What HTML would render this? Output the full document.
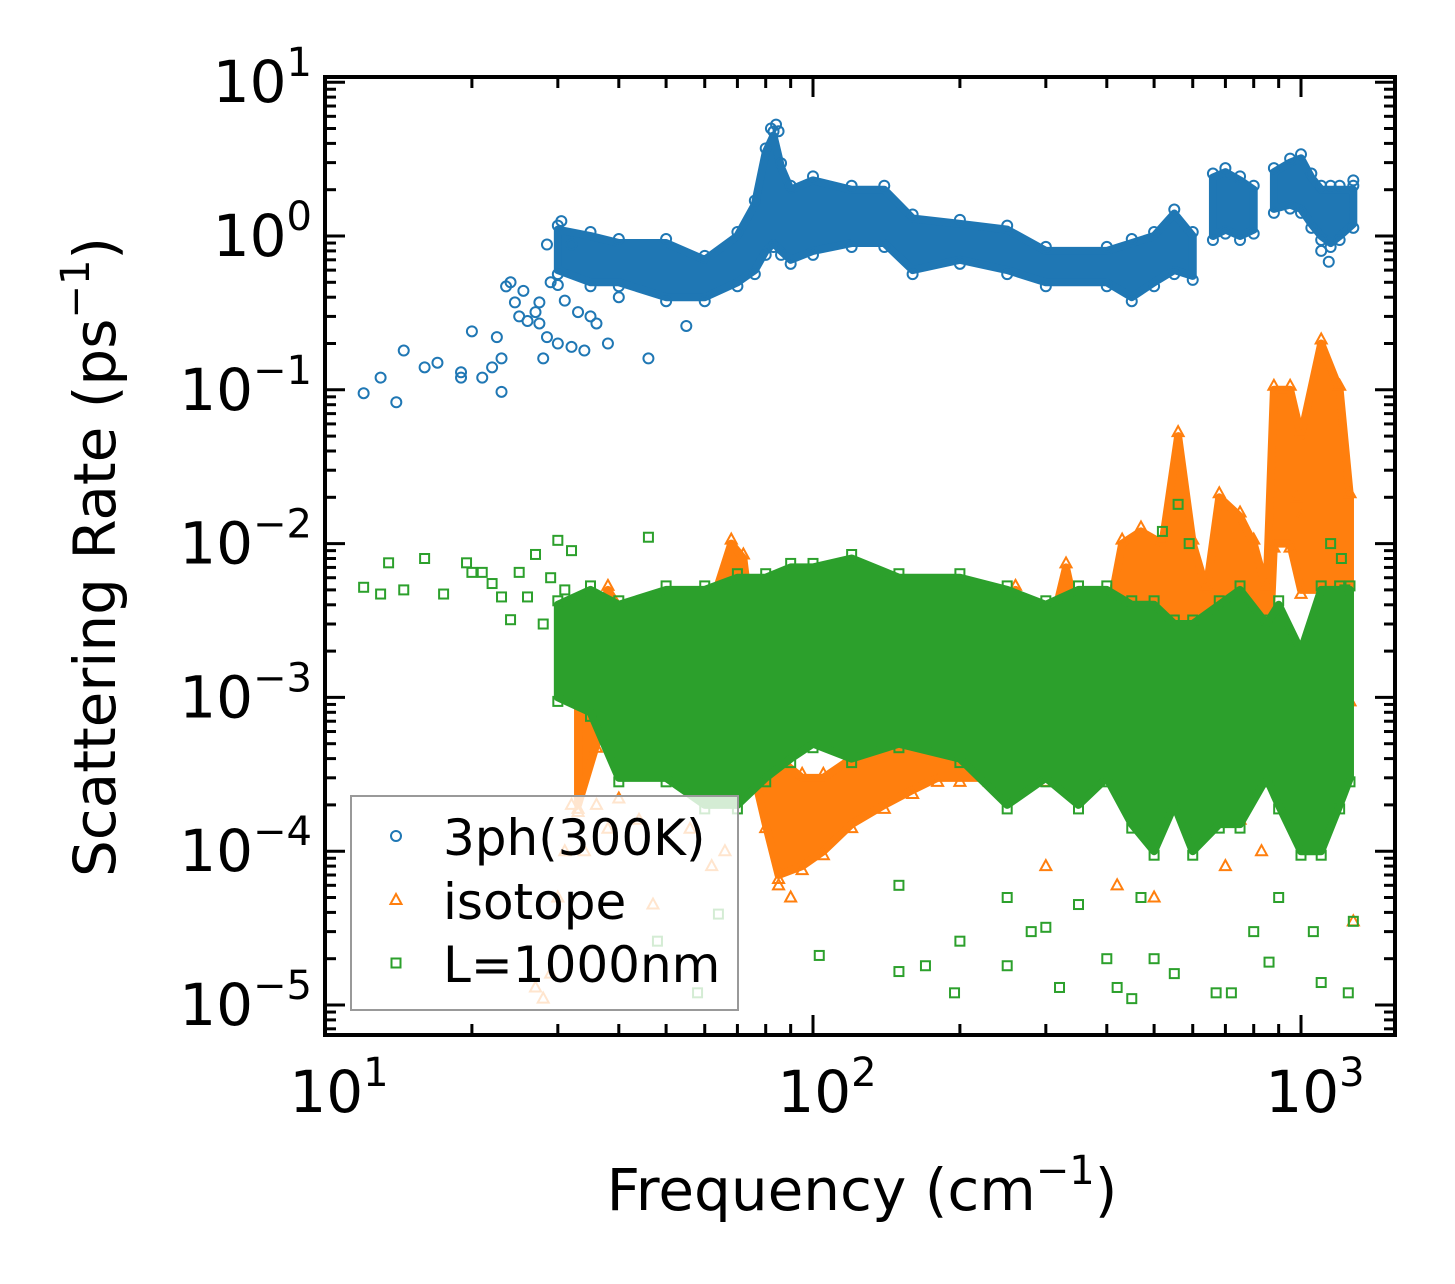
<!DOCTYPE html>
<html><head><meta charset="utf-8"><style>
html,body{margin:0;padding:0;background:#fff}
svg{display:block;font-family:"DejaVu Sans","Liberation Sans",sans-serif}
</style></head><body>
<svg id="chart" width="1455" height="1284" viewBox="0 0 1455 1284" xmlns="http://www.w3.org/2000/svg">
<rect width="1455" height="1284" fill="#fff"/>
<g id="data"></g>
<g id="axes"></g>
</svg>
<script>
// ---- data ----
const blueBandF=[30,35,40,50,60,70,76,80,83,86,90,100,120,140,160,200,250,300,400,450,500,550,600];
const blueBandLo=[0.6,0.5,0.5,0.4,0.4,0.5,0.6,0.8,0.9,0.8,0.7,0.8,0.9,0.9,0.6,0.7,0.6,0.5,0.5,0.4,0.5,0.6,0.55];
const blueBandHi=[1.1,1.0,0.9,0.9,0.7,1.0,1.6,3.5,4.5,2.8,2.0,2.3,2.0,2.0,1.3,1.2,1.1,0.8,0.8,0.9,1.0,1.4,1.0];
const blueBand2F=[660,700,750,800];
const blueBand2Lo=[1.0,1.1,1.0,1.1];
const blueBand2Hi=[2.4,2.6,2.3,2.0];
const blueBand3F=[880,950,1000,1050,1100,1150,1200,1280];
const blueBand3Lo=[1.5,1.6,1.5,1.2,1.0,0.9,1.0,1.2];
const blueBand3Hi=[2.6,3.0,3.2,2.4,2.0,2.0,2.0,2.0];
const blueX=[12,13,14,14.5,16,17,19,19,20,21,22,22.5,23,23,23.5,24,24.5,25,25.5,26,27,27.5,28,28.5,28.5,29,30,30,31,32,33,34,35,36,38,40,46,55,30.5,32,27.5,82,84,85,1280,1140,1100];
const blueY=[0.095,0.12,0.083,0.18,0.14,0.15,0.13,0.12,0.24,0.12,0.14,0.22,0.097,0.16,0.47,0.5,0.37,0.3,0.44,0.28,0.32,0.27,0.16,0.22,0.88,0.5,0.2,0.48,0.38,0.19,0.32,0.18,0.3,0.27,0.2,0.4,0.16,0.26,1.25,0.88,0.37,5.0,5.3,4.8,2.3,0.68,0.8];

const orangeBandF=[33,36,38,42,48,55,62,68,72,76,80,85,95,105,120,140,160,180,200,230,260,300,330,360,400,430,470,520,560,600,640,680,750,800,850,880,950,1000,1100,1200,1260];
const orangeBandLo=[2e-4,5e-4,1e-3,6e-4,4e-4,5e-4,8e-4,1e-3,1e-3,3e-4,1.5e-4,7e-5,8e-5,1e-4,1.5e-4,2e-4,2.5e-4,3e-4,3e-4,3e-4,3e-4,3e-4,4e-4,4e-4,4e-4,3e-4,4e-4,1e-3,2e-3,1e-3,6e-4,5e-4,1e-3,1e-3,8e-4,1e-2,1e-2,5e-3,5e-3,1e-3,1e-3];
const orangeBandHi=[1e-3,3e-3,5e-3,3e-3,2e-3,2e-3,4e-3,1e-2,8e-3,2e-3,6e-4,4e-4,3e-4,3e-4,4e-4,6e-4,1e-3,3e-3,5e-3,3e-3,5e-3,2e-3,7e-3,2e-3,3e-3,1e-2,1.2e-2,1e-2,5e-2,1e-2,5e-3,2e-2,1.5e-2,1e-2,5e-3,0.1,0.1,0.05,0.2,0.1,0.02];
const orangeX=[27,28,29,30,31,32,33,34,36,38,40,44,47,56,62,66,85,90,300,420,500,620,700,750,830,1280,980,1000];
const orangeY=[1.3e-5,1.1e-5,1.6e-5,5e-5,1e-4,2e-4,1.8e-4,1e-4,2e-4,1.4e-4,2.2e-4,1.6e-4,4.5e-5,1.4e-4,8e-5,1e-4,6e-5,5e-5,8e-5,6e-5,5e-5,1.3e-4,8e-5,1.6e-4,1e-4,3.5e-5,2e-2,1.5e-2];

const greenBandF=[30,35,40,50,60,70,80,90,100,120,150,200,250,300,350,400,450,500,550,600,680,750,850,900,1000,1100,1200,1260];
const greenBandLo=[1e-3,8e-4,3e-4,3e-4,2e-4,2e-4,3e-4,4e-4,5e-4,4e-4,5e-4,4e-4,2e-4,3e-4,2e-4,3e-4,1.5e-4,1e-4,2e-4,1e-4,1.5e-4,1.5e-4,3e-4,2e-4,1e-4,1e-4,2e-4,3e-4];
const greenBandHi=[4e-3,5e-3,4e-3,5e-3,5e-3,6e-3,6e-3,7e-3,7e-3,8e-3,6e-3,6e-3,5e-3,4e-3,5e-3,5e-3,4e-3,4e-3,3e-3,3e-3,4e-3,5e-3,3e-3,4e-3,2e-3,5e-3,5e-3,5e-3];
const greenX=[12,13,13.5,14.5,16,17.5,19.5,20,21,22,23,24,25,26,27,28,29,30,31,32,46,48,58,64,103,150,170,195,200,250,280,320,400,420,450,500,550,670,720,860,1100,1250,470,350,1060,900,800,300,250,150,1280,560,520,590,1150,1210,1230];
const greenY=[5.2e-3,4.7e-3,7.5e-3,5e-3,8e-3,4.7e-3,7.5e-3,6.5e-3,6.5e-3,5.5e-3,4.5e-3,3.2e-3,6.5e-3,4.5e-3,8.5e-3,3e-3,6e-3,1.05e-2,5e-3,9e-3,1.1e-2,2.6e-5,1.2e-5,3.9e-5,2.1e-5,1.65e-5,1.8e-5,1.2e-5,2.6e-5,1.8e-5,3e-5,1.3e-5,2e-5,1.3e-5,1.1e-5,2e-5,1.6e-5,1.2e-5,1.2e-5,1.9e-5,1.4e-5,1.2e-5,5e-5,4.5e-5,3e-5,5e-5,3e-5,3.2e-5,5e-5,6e-5,3.5e-5,1.8e-2,1.2e-2,1e-2,1e-2,8e-3,5e-3];

const xTickExp=[1,2,3];
const yTickExp=[1,0,-1,-2,-3,-4,-5];

// ---- axes ----
const L=325,R=1395,T=77,B=1035;
const x0=325,dx=488;
const y0=236,dy=153.8;
const xs=f=>x0+(Math.log10(f)-1)*dx;
const ys=v=>y0-Math.log10(v)*dy;
const NS='http://www.w3.org/2000/svg';
function mk(tag,attrs,parent){const e=document.createElementNS(NS,tag);for(const k in attrs)e.setAttribute(k,attrs[k]);parent.appendChild(e);return e;}
const gd=document.getElementById('data'), ga=document.getElementById('axes');
const svg=document.getElementById('chart');
const defs=mk('defs',{},svg);
const cp=mk('clipPath',{id:'clip'},defs);
mk('rect',{x:L,y:T,width:R-L,height:B-T},cp);
gd.setAttribute('clip-path','url(#clip)');

function marker(kind,x,y,color,g){
  let e;
  if(kind==='o'){e=mk('circle',{cx:x,cy:y,r:5,fill:'none',stroke:color,'stroke-width':2},g);}
  else if(kind==='^'){e=mk('path',{d:`M${x},${y-6} L${x+5.5},${y+4} L${x-5.5},${y+4} Z`,fill:'none',stroke:color,'stroke-width':2},g);}
  else {e=mk('rect',{x:x-4.5,y:y-4.5,width:9,height:9,fill:'none',stroke:color,'stroke-width':2},g);}
  return e;
}
function band(F,Lo,Hi,color,kind,name){
  const g=mk('g',{},gd);
  
  
  let pts=[];
  for(let i=0;i<F.length;i++)pts.push(xs(F[i])+','+ys(Hi[i]));
  for(let i=F.length-1;i>=0;i--)pts.push(xs(F[i])+','+ys(Lo[i]));
  const p=mk('polygon',{points:pts.join(' '),fill:color,stroke:color,'stroke-width':8,'stroke-linejoin':'round'},g);
  
  
  for(let i=0;i<F.length;i++){
    const m1=marker(kind,xs(F[i]),ys(Hi[i])-4,color,g);
    
    
    const m2=marker(kind,xs(F[i]),ys(Lo[i])+4,color,g);
    
    
  }
}
function scatter(X,Y,color,kind,name){
  const g=mk('g',{},gd);
  
  
  for(let i=0;i<X.length;i++){
    const m=marker(kind,xs(X[i]),ys(Y[i]),color,g);
    
    
  }
}
const C1='#1f77b4',C2='#ff7f0e',C3='#2ca02c';
band(blueBandF,blueBandLo,blueBandHi,C1,'o','series-3ph');
band(blueBand2F,blueBand2Lo,blueBand2Hi,C1,'o','series-3ph-high');
band(blueBand3F,blueBand3Lo,blueBand3Hi,C1,'o','series-3ph-top');
scatter(blueX,blueY,C1,'o','series-3ph-scatter');
band(orangeBandF,orangeBandLo,orangeBandHi,C2,'^','series-isotope');
scatter(orangeX,orangeY,C2,'^','series-isotope-scatter');
band(greenBandF,greenBandLo,greenBandHi,C3,'s','series-boundary');
scatter(greenX,greenY,C3,'s','series-boundary-scatter');

function tick(x1,y1,x2,y2){const t=mk('line',{x1,y1,x2,y2,stroke:'#000','stroke-width':3},ga);}
for(let e=1;e<=3;e++){
  for(let k=1;k<10;k++){
    const x=xs(k*Math.pow(10,e)); if(x>R)break;
    const len=k===1?20:11;
    tick(x,B,x,B-len);tick(x,T,x,T+len);
  }
}
for(let e=-6;e<=1;e++){
  for(let k=1;k<10;k++){
    const y=ys(k*Math.pow(10,e)); if(y<T||y>B)continue;
    const len=k===1?20:11;
    tick(L,y,L+len,y);tick(R,y,R-len,y);
  }
}
const fr=mk('rect',{x:L,y:T,width:R-L,height:B-T,fill:'none',stroke:'#000','stroke-width':4},ga);



function powLabel(x,y,exp,anchor,name){
  const t=mk('text',{x,y,'font-size':58,'text-anchor':anchor,fill:'#000'},ga);
  
  
  const a=mk('tspan',{},t);a.textContent='10';
  const b=mk('tspan',{'font-size':40,dy:-26},t);b.textContent=(exp<0?'\u2212':'')+Math.abs(exp);
}
xTickExp.forEach(e=>powLabel(xs(Math.pow(10,e))+14,1112,e,'middle','x-tick-label'));
yTickExp.forEach(e=>powLabel(312,ys(Math.pow(10,e))+20,e,'end','y-tick-label'));

const xt=mk('text',{x:862,y:1210,'font-size':58,'text-anchor':'middle'},ga);

xt.innerHTML='Frequency (cm<tspan font-size="40" dy="-26">\u22121</tspan><tspan dy="26">)</tspan>';
const yt=mk('text',{x:0,y:0,'font-size':58,'text-anchor':'middle',transform:'translate(115,557) rotate(-90)'},ga);

yt.innerHTML='Scattering Rate (ps<tspan font-size="40" dy="-26">\u22121</tspan><tspan dy="26">)</tspan>';

const lg=mk('g',{},ga);

mk('rect',{x:351,y:796,width:387,height:214,fill:'rgba(255,255,255,0.8)',stroke:'#999','stroke-width':2},lg);
[['3ph(300K)',C1,'o',838],['isotope',C2,'^',902],['L=1000nm',C3,'s',965]].forEach(([lab,c,k,y])=>{
  const m=marker(k,396,y-2,c,lg);
  
  const t=mk('text',{x:443,y:y+17,'font-size':50},lg);t.textContent=lab;
  
});
</script>
</body></html>
